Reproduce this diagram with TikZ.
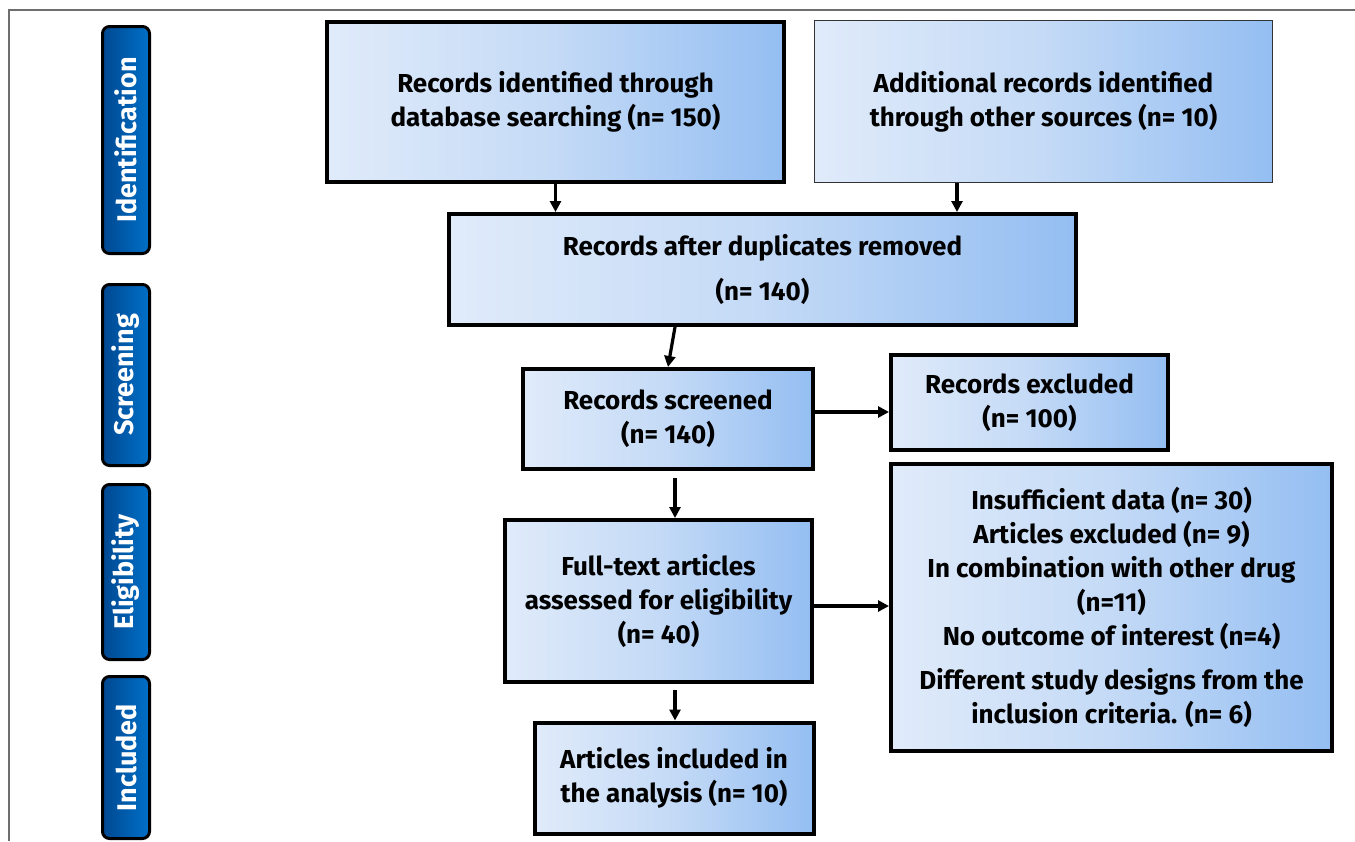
\documentclass[tikz,border=0pt]{standalone}
\usepackage{fontspec}
\setmainfont{Fira Sans}
\usetikzlibrary{arrows.meta,calc}
\definecolor{boxL}{RGB}{224,235,250}
\definecolor{boxM}{RGB}{196,218,246}
\definecolor{boxR}{RGB}{148,190,242}
\definecolor{sideL}{RGB}{0,72,145}
\definecolor{sideR}{RGB}{0,112,200}
\definecolor{frameC}{RGB}{110,110,110}
\tikzset{
  box/.style={draw=black, line width=2pt, left color=boxL, right color=boxR, middle color=boxM,
    align=center, inner sep=0pt, font=\bfseries\fontsize{13}{17}\selectfont},
  thinbox/.style={box, draw=black!80, line width=0.6pt},
  sidebox/.style={draw=black, line width=1.5pt, rounded corners=3.5pt, left color=sideL, right color=sideR,
    text=white, inner sep=0pt, minimum width=23.5pt, font=\bfseries\fontsize{13.5}{15}\selectfont},
  arr/.style={line width=1.6pt, -{Triangle[length=5.5pt,width=5.5pt]}}
}
\begin{document}
\begin{tikzpicture}[x=0.5pt,y=-0.5pt]
\useasboundingbox (0,0) rectangle (1355,841);
\draw[frameC, line width=1pt] (9,841) -- (9,10) -- (1355,10);

% side labels
\node[sidebox, minimum height=113.5pt] (s1) at (126,140) {\rotatebox{90}{Identification}};
\node[sidebox, minimum height=90.5pt] (s2) at (126,375) {\rotatebox{90}{Screening}};
\node[sidebox, minimum height=87.5pt] (s3) at (126,572) {\rotatebox{90}{Eligibility}};
\node[sidebox, minimum height=81pt] (s4) at (126,757.5) {\rotatebox{90}{Included}};

% boxes
\node[box, minimum width=228.5pt, minimum height=80pt] (A) at (555.5,102)
  {Records identified through\\database searching (n= 150)};
\node[thinbox, minimum width=229pt, minimum height=81pt] (B) at (1043.5,101.5)
  {Additional records identified\\through other sources (n= 10)};
\node[box, minimum width=313.5pt, minimum height=55.5pt] (C) at (762.5,269.5)
  {Records after duplicates removed\\[5.5pt](n= 140)};
\node[box, minimum width=145pt, minimum height=50pt] (D) at (668,419)
  {Records screened\\(n= 140)};
\node[box, minimum width=138.5pt, minimum height=47.5pt] (E) at (1029.5,402.5)
  {Records excluded\\(n= 100)};
\node[box, minimum width=153.5pt, minimum height=81pt] (F) at (658.5,601)
  {Full-text articles\\assessed for eligibility\\(n= 40)};
\node[box, minimum width=220.5pt, minimum height=143.5pt] (G) at (1111.5,607.5)
  {Insufficient data (n= 30)\\Articles excluded (n= 9)\\In combination with other drug\\(n=11)\\No outcome of interest (n=4)\\[5pt]Different study designs from the\\inclusion criteria. (n= 6)};
\node[box, minimum width=139.5pt, minimum height=55.5pt] (H) at (674,778)
  {Articles included in\\the analysis (n= 10)};

% connectors
\draw[arr] (A.south) -- (A.south |- C.north);
\coordinate (b1) at ($(B.south)+(-86.5,0)$);
\draw[arr] (b1) -- (b1 |- C.north);
\draw[arr] ($(C.south)+(-87.5,0)$) -- (D.north);
\coordinate (de) at ($(D.east)+(0,-7)$);
\draw[arr] (de) -- (de -| E.west);
\coordinate (df) at ($(D.south)+(7,7)$);
\draw[arr] (df) -- (df |- F.north);
\coordinate (fg) at ($(F.east)+(0,5)$);
\draw[arr] (fg) -- (fg -| G.west);
\coordinate (fh) at ($(F.south)+(16.5,6)$);
\draw[arr] (fh) -- (fh |- H.north);
\end{tikzpicture}
\end{document}
